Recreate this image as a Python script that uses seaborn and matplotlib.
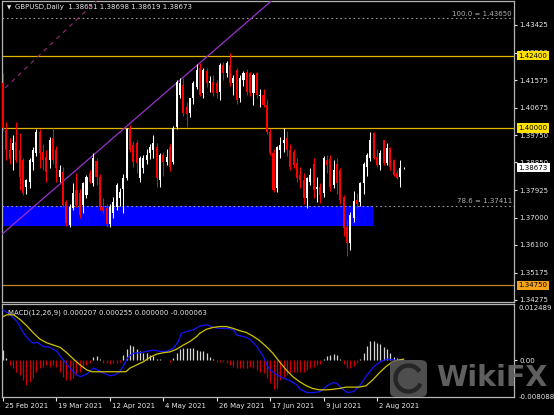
import matplotlib
matplotlib.use('Agg')
import matplotlib.pyplot as plt
import matplotlib.transforms as mtransforms
from matplotlib.patches import Rectangle, FancyBboxPatch, Arc
import numpy as np
import pandas as pd
import seaborn as sns

# GBPUSD daily candles, 25 Feb 2021 .. 12 Aug 2021
OPEN = [1.4150, 1.3993, 1.3926, 1.3926, 1.3954, 1.3926, 1.3893, 1.3804, 1.3821, 1.3887,
        1.3915, 1.3987, 1.3920, 1.3904, 1.3893, 1.3965, 1.3926, 1.3837, 1.3854, 1.3754,
        1.3676, 1.3732, 1.3793, 1.3782, 1.3743, 1.3776, 1.3848, 1.3815, 1.3890, 1.3835,
        1.3737, 1.3732, 1.3680, 1.3715, 1.3737, 1.3765, 1.3795, 1.3832, 1.3998, 1.3943,
        1.3948, 1.3832, 1.3865, 1.3893, 1.3915, 1.3926, 1.3937, 1.3825, 1.3909, 1.3887,
        1.3935, 1.3887, 1.4004, 1.4109, 1.4143, 1.4070, 1.4048, 1.4098, 1.4137, 1.4198,
        1.4115, 1.4190, 1.4150, 1.4154, 1.4148, 1.4120, 1.4209, 1.4181, 1.4209, 1.4148,
        1.4192, 1.4098, 1.4159, 1.4187, 1.4181, 1.4115, 1.4181, 1.4105, 1.4109, 1.4076,
        1.3987, 1.3915, 1.3800, 1.3926, 1.3948, 1.3965, 1.3926, 1.3920, 1.3882, 1.3843,
        1.3826, 1.3765, 1.3821, 1.3880, 1.3795, 1.3804, 1.3782, 1.3893, 1.3895, 1.3810,
        1.3880, 1.3860, 1.3771, 1.3668, 1.3615, 1.3700, 1.3760, 1.3754, 1.3815, 1.3870,
        1.3898, 1.3982, 1.3904, 1.3876, 1.3959, 1.3882, 1.3932, 1.3893, 1.3848, 1.3837,
        1.38651]
HIGH = [1.4183, 1.4020, 1.3966, 1.3976, 1.4020, 1.3982, 1.3900, 1.3830, 1.3900, 1.3937,
        1.3996, 1.3995, 1.3945, 1.3925, 1.3970, 1.3998, 1.3940, 1.3876, 1.3870, 1.3760,
        1.3745, 1.3815, 1.3848, 1.3795, 1.3820, 1.3843, 1.3860, 1.3915, 1.3900, 1.3845,
        1.3765, 1.3745, 1.3745, 1.3770, 1.3815, 1.3800, 1.3845, 1.4000, 1.4009, 1.3955,
        1.3960, 1.3905, 1.3910, 1.3930, 1.3945, 1.3976, 1.3950, 1.3915, 1.3920, 1.3930,
        1.3945, 1.4005, 1.4160, 1.4166, 1.4165, 1.4085, 1.4100, 1.4155, 1.4212, 1.4215,
        1.4200, 1.4200, 1.4172, 1.4175, 1.4160, 1.4215, 1.4220, 1.4222, 1.4248, 1.4175,
        1.4198, 1.4175, 1.4190, 1.4195, 1.4185, 1.4182, 1.4185, 1.4130, 1.4130, 1.4095,
        1.3995, 1.3930, 1.3940, 1.3968, 1.4000, 1.3990, 1.3945, 1.3930, 1.3900, 1.3870,
        1.3850, 1.3837, 1.3865, 1.3898, 1.3837, 1.3815, 1.3905, 1.3910, 1.3908, 1.3893,
        1.3898, 1.3865, 1.3775, 1.3693, 1.3720, 1.3790, 1.3782, 1.3820, 1.3885, 1.3915,
        1.3987, 1.3985, 1.3930, 1.3925, 1.3960, 1.3948, 1.3935, 1.3895, 1.3860, 1.3893,
        1.38698]
LOW = [1.3990, 1.3893, 1.3880, 1.3860, 1.3885, 1.3793, 1.3775, 1.3778, 1.3800, 1.3860,
       1.3905, 1.3865, 1.3860, 1.3821, 1.3865, 1.3880, 1.3821, 1.3821, 1.3735, 1.3672,
       1.3671, 1.3725, 1.3735, 1.3700, 1.3715, 1.3765, 1.3815, 1.3805, 1.3810, 1.3725,
       1.3715, 1.3668, 1.3670, 1.3700, 1.3725, 1.3740, 1.3715, 1.3825, 1.3920, 1.3870,
       1.3850, 1.3820, 1.3850, 1.3880, 1.3895, 1.3900, 1.3804, 1.3804, 1.3840, 1.3875,
       1.3855, 1.3880, 1.3995, 1.4100, 1.4040, 1.4004, 1.4035, 1.4080, 1.4130, 1.4105,
       1.4100, 1.4135, 1.4120, 1.4105, 1.4100, 1.4093, 1.4160, 1.4170, 1.4140, 1.4110,
       1.4080, 1.4085, 1.4140, 1.4110, 1.4105, 1.4076, 1.4100, 1.4070, 1.4070, 1.3980,
       1.3910, 1.3786, 1.3787, 1.3900, 1.3920, 1.3905, 1.3860, 1.3865, 1.3820, 1.3800,
       1.3745, 1.3732, 1.3810, 1.3765, 1.3754, 1.3749, 1.3770, 1.3850, 1.3790, 1.3800,
       1.3780, 1.3745, 1.3640, 1.3572, 1.3593, 1.3687, 1.3733, 1.3740, 1.3780, 1.3840,
       1.3890, 1.3895, 1.3870, 1.3860, 1.3875, 1.3875, 1.3860, 1.3838, 1.3828, 1.3804,
       1.38619]
CLOSE = [1.4000, 1.3926, 1.3895, 1.3948, 1.3893, 1.3837, 1.3782, 1.3826, 1.3893, 1.3926,
         1.3987, 1.3915, 1.3893, 1.3854, 1.3959, 1.3893, 1.3865, 1.3859, 1.3743, 1.3682,
         1.3737, 1.3782, 1.3743, 1.3710, 1.3815, 1.3837, 1.3821, 1.3898, 1.3835, 1.3737,
         1.3722, 1.3680, 1.3737, 1.3754, 1.3810, 1.3787, 1.3832, 1.3995, 1.3926, 1.3887,
         1.3882, 1.3898, 1.3898, 1.3909, 1.3937, 1.3950, 1.3832, 1.3909, 1.3887, 1.3904,
         1.3870, 1.4000, 1.4154, 1.4148, 1.4048, 1.4045, 1.4098, 1.4148, 1.4192, 1.4109,
         1.4192, 1.4150, 1.4157, 1.4115, 1.4115, 1.4209, 1.4181, 1.4215, 1.4148, 1.4165,
         1.4093, 1.4165, 1.4181, 1.4120, 1.4115, 1.4176, 1.4109, 1.4109, 1.4076, 1.3985,
         1.3915, 1.3793, 1.3937, 1.3943, 1.3959, 1.3926, 1.3870, 1.3876, 1.3832, 1.3826,
         1.3765, 1.3832, 1.3843, 1.3793, 1.3804, 1.3776, 1.3900, 1.3876, 1.3804, 1.3859,
         1.3815, 1.3760, 1.3665, 1.3615, 1.3710, 1.3755, 1.3745, 1.3815, 1.3880, 1.3909,
         1.3959, 1.3900, 1.3876, 1.3915, 1.3882, 1.3932, 1.3870, 1.3843, 1.3832, 1.3865,
         1.38673]

# MACD(12,26,9) panel
HIST = [0.0023, 0.0005, -0.0010, -0.0017, -0.0025, -0.0032, -0.0043, -0.0054, -0.0047, -0.0039,
        -0.0025, -0.0017, -0.0014, -0.0010, -0.0014, -0.0010, -0.0014, -0.0025, -0.0036, -0.0043,
        -0.0043, -0.0039, -0.0032, -0.0025, -0.0017, -0.0010, -0.0005, 0.0008, 0.0010, 0.0003,
        -0.0005, -0.0006, -0.0008, -0.0006, -0.0005, -0.0003, 0.0012, 0.0025, 0.0034, 0.0031,
        0.0025, 0.0020, 0.0017, 0.0016, 0.0012, 0.0010, 0.0004, 0.0003, 0.0001, 0.0001,
        -0.0003, 0.0005, 0.0016, 0.0025, 0.0028, 0.0027, 0.0027, 0.0027, 0.0023, 0.0020,
        0.0020, 0.0016, 0.0008, 0.0003, -0.0003, -0.0003, -0.0003, -0.0005, -0.0010, -0.0014,
        -0.0017, -0.0017, -0.0017, -0.0017, -0.0014, -0.0017, -0.0021, -0.0025, -0.0028, -0.0039,
        -0.0051, -0.0064, -0.0062, -0.0043, -0.0036, -0.0032, -0.0028, -0.0025, -0.0025, -0.0025,
        -0.0025, -0.0022, -0.0017, -0.0014, -0.0010, -0.0008, 0.0003, 0.0010, 0.0012, 0.0014,
        0.0012, 0.0003, -0.0008, -0.0017, -0.0017, -0.0012, -0.0006, 0.0004, 0.0017, 0.0032,
        0.0044, 0.0044, 0.0039, 0.0037, 0.0029, 0.0025, 0.0017, 0.0008, 0.0005, 0.0003,
        0.0001]
MACD_IDX = [0, 2.2, 4.2, 6.2, 8.2, 9.2, 10.2, 12.1, 14.1, 16.1, 18.1, 20.1, 22.1, 23.1, 25.1,
            27.1, 28.1, 30.1, 32, 33.5, 35, 36.5, 37.5, 39, 41, 43, 45, 47, 49, 51,
            52.5, 53.4, 55, 57, 59, 61, 63, 65, 67, 69, 70, 72, 74, 76, 78,
            79, 80, 82, 84, 86, 88, 89, 91, 93, 95, 97, 99, 100, 101, 102,
            103, 105, 107, 109, 111, 113, 115, 117, 119, 120]
MACD_VAL = [0.0112, 0.0101, 0.0086, 0.0060, 0.0042, 0.0038, 0.0040, 0.0031, 0.0029, 0.0020,
            0.0001, -0.0017, -0.0032, -0.0036, -0.0030, -0.0017, -0.0020, -0.0028, -0.0034, -0.0032,
            -0.0025, -0.0006, 0.0008, 0.0016, 0.0017, 0.0020, 0.0023, 0.0020, 0.0020, 0.0027,
            0.0042, 0.0060, 0.0064, 0.0068, 0.0076, 0.0079, 0.0073, 0.0071, 0.0071, 0.0068,
            0.0056, 0.0053, 0.0047, 0.0031, 0.0008, -0.0010, -0.0021, -0.0032, -0.0039, -0.0045,
            -0.0054, -0.0064, -0.0071, -0.0071, -0.0069, -0.0056, -0.0049, -0.0051, -0.0059, -0.0065,
            -0.0071, -0.0069, -0.0054, -0.0032, -0.0014, -0.0003, 0.0003, 0.0001, 0.0000, 0.0002]
SIG_IDX = [0, 1.2, 3.2, 5.2, 7.2, 9.2, 11.1, 13.1, 15.1, 17.1, 19.1, 21.1, 23.1, 25.1, 26.6,
           36.8, 38, 40, 42, 44, 46, 48, 50, 52, 54, 56, 58, 58.9, 60.9, 62.9,
           64.9, 66.9, 68.9, 70.8, 72.8, 74.8, 76.8, 78.8, 80.8, 82.8, 84.8, 86.8, 88.8, 90.8, 92.7,
           94.7, 96.7, 98.7, 100.7, 102.7, 106.7, 108.7, 110.7, 112.6, 114.6, 116.6, 118.6, 120]
SIG_VAL = [0.0097, 0.0101, 0.0101, 0.0090, 0.0076, 0.0060, 0.0047, 0.0039, 0.0034, 0.0029,
           0.0017, 0.0003, -0.0010, -0.0021, -0.0025, -0.0025, -0.0017, -0.0010, -0.0003, 0.0007,
           0.0014, 0.0017, 0.0019, 0.0025, 0.0034, 0.0042, 0.0053, 0.0060, 0.0069, 0.0073,
           0.0075, 0.0075, 0.0071, 0.0066, 0.0062, 0.0054, 0.0044, 0.0031, 0.0016, -0.0003,
           -0.0021, -0.0036, -0.0047, -0.0056, -0.0062, -0.0065, -0.0065, -0.0064, -0.0062, -0.0059,
           -0.0059, -0.0056, -0.0043, -0.0028, -0.0014, -0.0003, 0.0001, 0.0003]

DATE_IDX = [0, 16, 32, 48, 64, 80, 96, 112]
DATE_LABELS = ['25 Feb 2021', '19 Mar 2021', '12 Apr 2021', '4 May 2021',
               '26 May 2021', '17 Jun 2021', '9 Jul 2021', '2 Aug 2021']
PRICE_TICKS = [1.43425, 1.42500, 1.41575, 1.40675, 1.39750, 1.38850,
               1.37925, 1.37000, 1.36100, 1.35175, 1.34275]
GOLD_LEVELS = [1.42400, 1.40000]
ORANGE_LEVELS = [1.34750]
FIB_LEVELS = [1.43650, 1.37411]
FIB_NAMES = ['100.0', '78.6']
ZONE_TOP, ZONE_BOTTOM, ZONE_END = 1.37411, 1.36730, 110.8
TREND_A, TREND_B = (-0.9, 1.3640), (80.0, 1.4419)
DASH_X, DASH_Y = [0.6, 35.0], [1.41325, 1.4497]
HEADER = 'GBPUSD,Daily  1.38651 1.38698 1.38619 1.38673'
MACD_TITLE = 'MACD(12,26,9) 0.000207 0.000255 0.000000 -0.000063'
MACD_RANGE = (-0.008088, 0.012489)

W, H = 554, 415
FG = '#e6e6e6'
FS = 5


def setup():
    sns.set_theme(style='ticks', rc={
        'figure.facecolor': 'black', 'axes.facecolor': 'black',
        'axes.edgecolor': '#b4b4b4', 'axes.linewidth': 0.9,
        'xtick.color': FG, 'ytick.color': FG, 'text.color': FG,
    })
    plt.rcParams['font.family'] = ['DejaVu Sans']


def draw_candles(ax):
    df = pd.DataFrame({'o': OPEN, 'h': HIGH, 'l': LOW, 'c': CLOSE})
    df['i'] = np.arange(len(df))
    up = df['c'] >= df['o']
    for mask, col in ((up, '#ffffff'), (~up, '#ff0000')):
        d = df[mask]
        ax.vlines(d['i'], d['l'], d['h'], color=col, lw=0.75, zorder=4)
        lo = np.minimum(d['o'], d['c'])
        hgt = np.maximum((d['c'] - d['o']).abs(), 0.00005)
        ax.bar(d['i'], hgt, bottom=lo, width=0.62, color=col, lw=0, zorder=5)


def price_box(ax, price, face):
    tr = mtransforms.blended_transform_factory(ax.transAxes, ax.transData)
    ax.text(1.009, price, '%.5f' % price, transform=tr, fontsize=FS, color='black',
            va='center', ha='left', clip_on=False, zorder=20,
            bbox=dict(boxstyle='square,pad=0.25', fc=face, ec='none'))


def main_panel(fig):
    ax = fig.add_axes([2 / W, 1 - 302 / H, 512 / W, 301 / H])
    ax.set_xlim(-0.3, 153.0)
    ax.set_ylim(1.34199, 1.44222)

    ax.add_patch(Rectangle((-5, ZONE_BOTTOM), ZONE_END + 5, ZONE_TOP - ZONE_BOTTOM,
                           fc='#0000ff', ec='none', zorder=1))
    for lv in GOLD_LEVELS:
        ax.axhline(lv, color='#e0b400', lw=0.9, zorder=2)
    for lv in ORANGE_LEVELS:
        ax.axhline(lv, color='#c8841c', lw=0.9, zorder=2)
    for lv, nm in zip(FIB_LEVELS, FIB_NAMES):
        ax.axhline(lv, color='#9a9a9a', lw=0.8, ls=(0, (1.5, 2.5)), zorder=3)
        ax.text(0.996, lv + 0.0005, '%s = %.5f' % (nm, lv), transform=mtransforms.blended_transform_factory(ax.transAxes, ax.transData),
                ha='right', va='bottom', fontsize=FS, color='#b0b0b0', zorder=6)

    ax.axline(TREND_A, TREND_B, color='#9932cc', lw=0.9, zorder=3)
    ax.plot(DASH_X, DASH_Y, color='#a0287a', lw=0.8, ls=(0, (4, 4)), zorder=3)

    draw_candles(ax)

    ax.set_xticks([])
    ax.yaxis.tick_right()
    ax.set_yticks(PRICE_TICKS)
    ax.set_yticklabels(['%.5f' % p for p in PRICE_TICKS])
    ax.tick_params(axis='y', labelsize=FS, length=2.5, width=0.8, pad=1.5, colors=FG)

    for lv in GOLD_LEVELS:
        price_box(ax, lv, '#ffe100')
    price_box(ax, ORANGE_LEVELS[0], '#f5a31a')
    price_box(ax, CLOSE[-1], '#ffffff')
    return ax


def macd_panel(fig):
    ax = fig.add_axes([2 / W, 1 - 397 / H, 512 / W, 93 / H])
    ax.set_xlim(-0.3, 153.0)
    ax.set_ylim(*MACD_RANGE)

    hist = np.array(HIST)
    idx = np.arange(len(hist))
    cols = np.where(hist >= 0, '#d6d6d6', '#cc0000')
    ax.vlines(idx, 0, hist, colors=cols, lw=0.9, zorder=2)

    sns.lineplot(x=MACD_IDX, y=MACD_VAL, ax=ax, color='#1414ff', lw=0.9, zorder=3)
    sns.lineplot(x=SIG_IDX, y=SIG_VAL, ax=ax, color='#d2c400', lw=0.9, zorder=4)

    ax.yaxis.tick_right()
    ax.set_yticks([0.0])
    ax.set_yticklabels(['0.00'])
    ax.tick_params(axis='y', labelsize=FS, length=2.5, width=0.8, pad=1.5, colors=FG)
    tr = mtransforms.blended_transform_factory(ax.transAxes, ax.transAxes)
    ax.text(1.009, 0.99, '%.6f' % MACD_RANGE[1], transform=tr, fontsize=FS,
            va='top', ha='left', clip_on=False)
    ax.text(1.009, 0.0, '%.6f' % MACD_RANGE[0], transform=tr, fontsize=FS,
            va='center', ha='left', clip_on=False)

    ax.set_xticks(DATE_IDX)
    ax.set_xticklabels(DATE_LABELS, ha='left')
    ax.tick_params(axis='x', labelsize=FS, length=3, width=0.8, pad=1.5, colors=FG)
    shift = mtransforms.ScaledTranslation(2 / 100, 0, fig.dpi_scale_trans)
    for lbl in ax.get_xticklabels():
        lbl.set_transform(lbl.get_transform() + shift)
    ax.set_xlabel('')
    ax.set_ylabel('')
    ax.text(6 / 512, 0.91, MACD_TITLE, transform=ax.transAxes, fontsize=FS, va='center')
    return ax


def watermark(fig):
    logo = FancyBboxPatch((390 / W, 1 - 397 / H), 37 / W, 37 / H,
                          boxstyle='round,pad=0,rounding_size=0.012',
                          transform=fig.transFigure, fc='#5c5c5c', ec='none',
                          alpha=0.85, zorder=30)
    fig.add_artist(logo)
    ring = Arc((408.5 / W, 1 - 378.5 / H), 26 / W, 26 / H, theta1=40, theta2=330,
               transform=fig.transFigure, color='#262626', lw=3.2, zorder=31)
    fig.add_artist(ring)
    fig.text(436 / W, 1 - 378 / H, 'WikiFX', fontsize=20.5, fontweight='bold',
             color='#6a6a6a', alpha=0.9, va='center', ha='left', zorder=30)


def main():
    setup()
    fig = plt.figure(figsize=(W / 100, H / 100), dpi=100)
    main_panel(fig)
    macd_panel(fig)
    fig.text(7 / W, 1 - 7.5 / H, '\u25bc', fontsize=4, va='center', ha='left')
    fig.text(15 / W, 1 - 7.5 / H, HEADER, fontsize=FS, va='center', ha='left')
    watermark(fig)
    fig.savefig('out.png', dpi=100, facecolor='black')


if __name__ == '__main__':
    main()
